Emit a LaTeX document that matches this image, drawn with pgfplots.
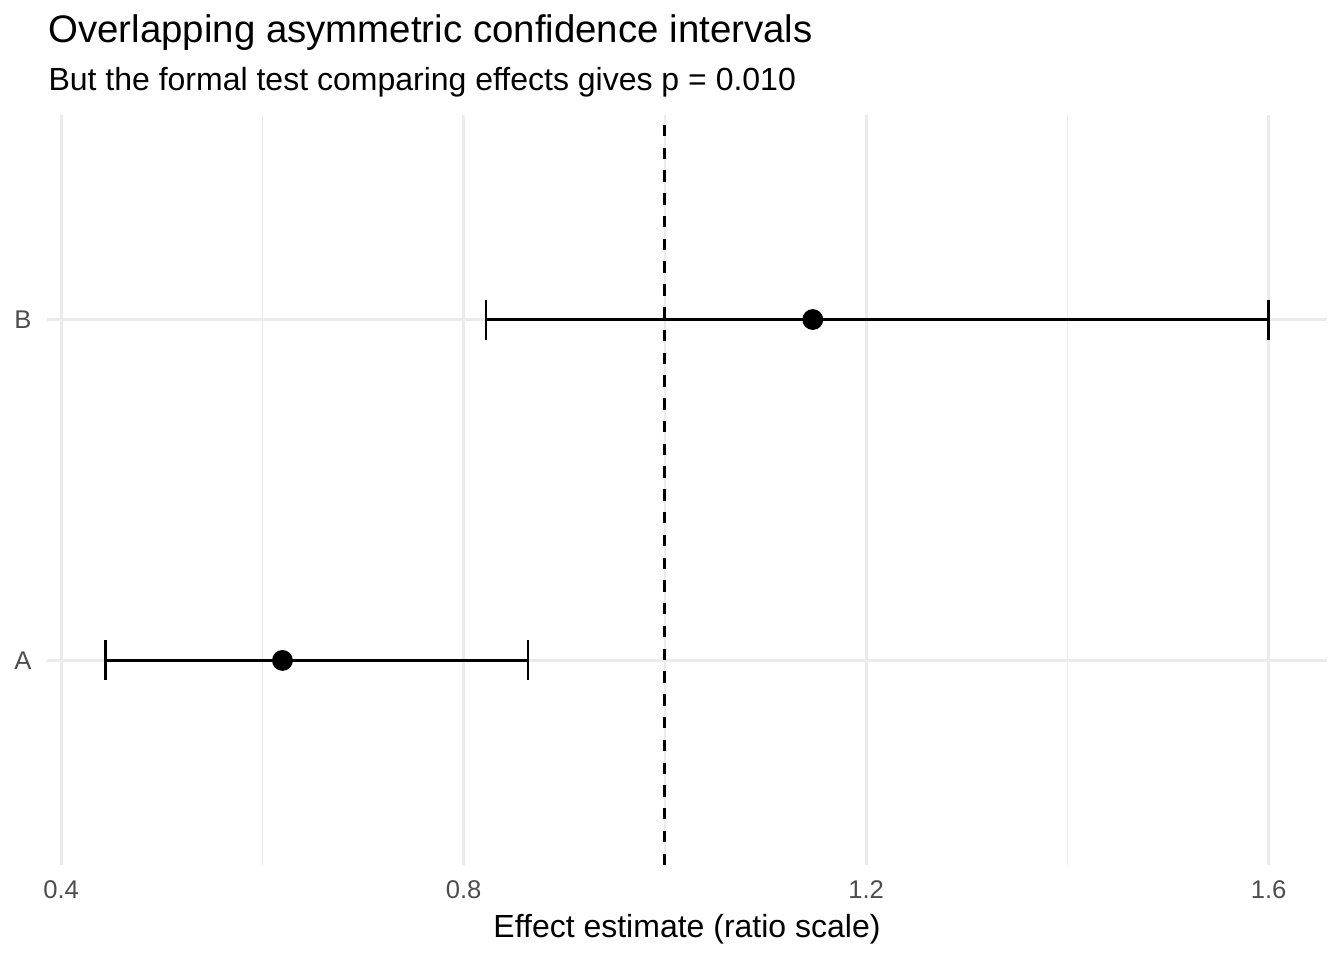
\documentclass[border=0pt]{standalone}
\usepackage{fontspec}
\setmainfont{Liberation Sans}
\usepackage{pgfplots}
\pgfplotsset{compat=1.18}
\definecolor{gridgray}{HTML}{EBEBEB}
\definecolor{labgray}{HTML}{4D4D4D}
% 1 px of the 1344x960 reference = 0.375bp
\begin{document}
\begin{tikzpicture}[x=0.375bp, y=0.375bp]
\useasboundingbox (0,0) rectangle (1344,960);
\node[anchor=base west, inner sep=0pt, font=\fontsize{14.4bp}{16bp}\selectfont] at (48,960-43) {Overlapping asymmetric confidence intervals};
\node[anchor=base west, inner sep=0pt, font=\fontsize{12bp}{14bp}\selectfont] at (48,960-91) {But the formal test comparing effects gives p = 0.010};
\begin{axis}[
	at = {(17.625bp, 35.625bp)}, anchor = south west,
	scale only axis,
	width = 480bp, height = 281.25bp,
	xmin = 0.386, xmax = 1.658,
	ymin = 0.4, ymax = 2.6,
	xtick = {0.4, 0.8, 1.2, 1.6},
	xticklabels = {0.4, 0.8, 1.2, 1.6},
	minor xtick = {0.6, 1.0, 1.4},
	ytick = {1, 2},
	yticklabels = {A, B},
	xmajorgrids, xminorgrids, ymajorgrids,
	major grid style = {draw = gridgray, line width = 1.07bp},
	minor grid style = {draw = gridgray, line width = 0.53bp},
	axis line style = {draw = none},
	tick style = {draw = none},
	major tick length = 0pt, minor tick length = 0pt,
	xticklabel style = {anchor = base, inner sep = 0pt, yshift = -12.75bp, text = labgray, font = \fontsize{9.6bp}{11bp}\selectfont},
	yticklabel style = {anchor = base east, inner sep = 0pt, xshift = -5.6bp, yshift = -3.3bp, text = labgray, font = \fontsize{9.6bp}{11bp}\selectfont},
	clip = false,
]
	% reference line at 1
	\addplot[black, line width = 1.07bp, dash pattern = on 4.27bp off 4.27bp] coordinates {(1.0, 0.4) (1.0, 2.6)};

	% confidence intervals
	\addplot[black, line width = 0.9bp, mark = |, mark size = 7.5bp, mark options = {line width = 0.9bp}] coordinates {(0.444, 1) (0.864, 1)};
	\addplot[black, line width = 0.9bp, mark = |, mark size = 7.5bp, mark options = {line width = 0.9bp}] coordinates {(0.822, 2) (1.600, 2)};

	% estimates
	\addplot[only marks, mark = *, mark size = 3.7bp, mark options = {draw = black, fill = black}] coordinates {(0.620, 1) (1.147, 2)};
\end{axis}
\node[anchor=base, inner sep=0pt, font=\fontsize{12bp}{14bp}\selectfont] at (687,960-937) {Effect estimate (ratio scale)};
\end{tikzpicture}
\end{document}
